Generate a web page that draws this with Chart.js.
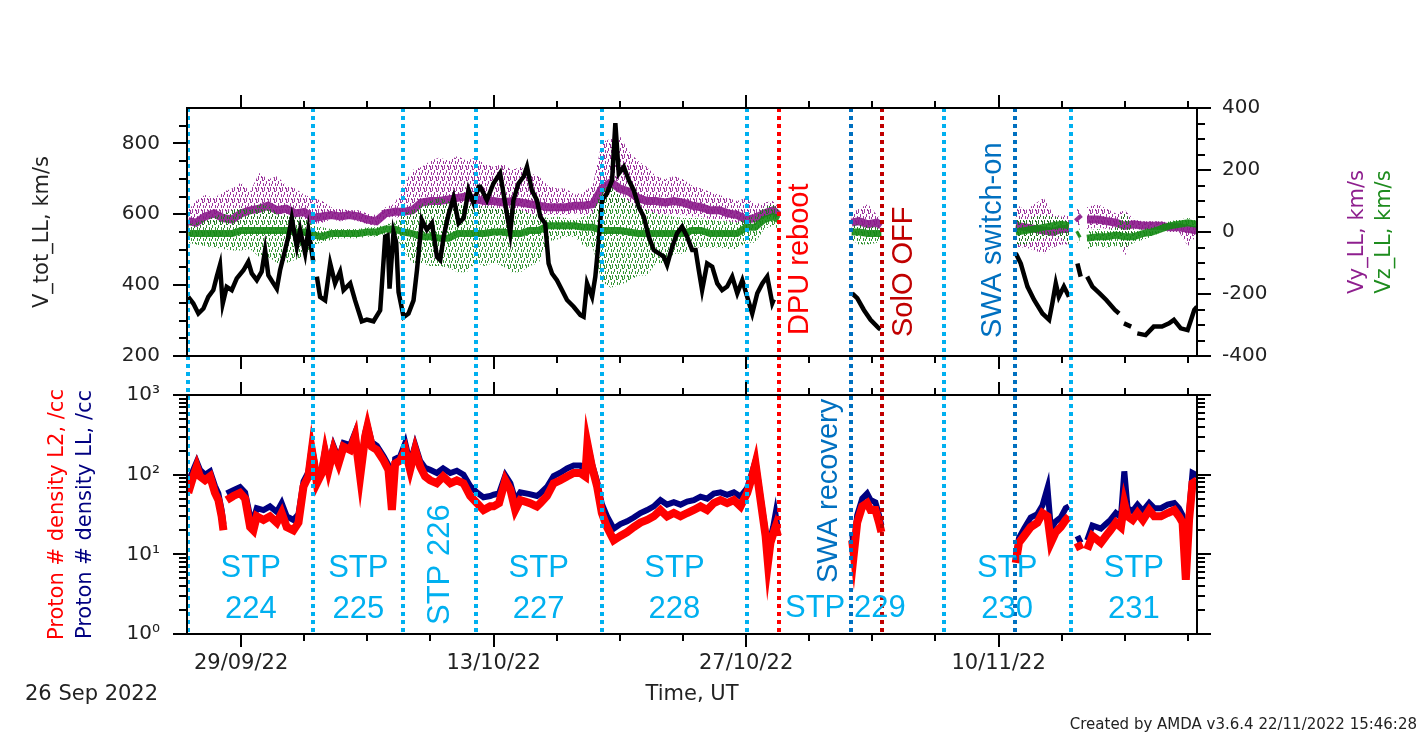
<!DOCTYPE html>
<html>
<head>
<meta charset="utf-8">
<script src="https://cdn.jsdelivr.net/npm/chart.js@4.4.1/dist/chart.umd.min.js"></script>
<style>
html,body{margin:0;padding:0;background:#fff;}
#wrap{position:relative;width:1418px;height:733px;}
</style>
</head>
<body>
<div id="wrap"><canvas id="c" width="1418" height="733"></canvas></div>
<script>
// ---------- DATA (days since 26 Sep 2022 00:00 UT) ----------
const xTickDays = [3, 17, 31, 45];
const xTickLabels = ['29/09/22', '13/10/22', '27/10/22', '10/11/22'];
const xMinorDays = [6.5, 10, 13.5, 20.5, 24, 27.5, 34.5, 38, 41.5, 48.5, 52, 55.5];
const vTicks = [200, 400, 600, 800];
const vMinor = [250, 300, 350, 450, 500, 550, 650, 700, 750, 850];
const vyTicks = [-400, -200, 0, 200, 400];
const vyMinor = [-350, -300, -250, -150, -100, -50, 50, 100, 150, 250, 300, 350];
const densTicks = [1, 10, 100, 1000];
const densTickLabels = ['10\u2070', '10\u00b9', '10\u00b2', '10\u00b3'];
const densMinor = [2,3,4,5,6,7,8,9,20,30,40,50,60,70,80,90,200,300,400,500,600,700,800,900];

const stpBoundDays = [0.07, 7.0, 12.0, 16.0, 23.0, 31.05, 41.95, 49.0];
const stpNames = ['STP 224','STP 225','STP 226','STP 227','STP 228','STP 229','STP 230','STP 231'];
const eventDays = [32.8, 36.83, 38.55, 45.9];
const eventNames = ['DPU reboot', 'SWA recovery', 'SolO OFF', 'SWA switch-on'];

// V_tot_LL (km/s)
const vtotDays = [0.07,0.35,0.63,0.91,1.18,1.46,1.65,1.83,1.98,2.2,2.48,2.76,3.13,3.4,3.59,3.87,4.14,4.33,4.51,4.79,4.98,5.16,5.44,5.62,5.81,6.09,6.27,6.55,6.73,7.0,7.1,
 7.2,7.38,7.66,7.94,8.21,8.49,8.68,9.05,9.32,9.69,9.97,10.34,10.71,10.99,11.12,11.23,11.45,11.6,11.73,12.01,12.28,12.56,12.75,13.02,13.3,13.58,13.86,14.04,14.23,14.5,14.78,15.06,15.34,15.61,15.89,16.17,
 16.26,16.63,16.99,17.36,17.64,17.92,18.1,18.38,18.66,18.85,19.12,19.4,19.59,19.86,20.05,20.24,20.51,20.79,21.07,21.44,21.81,21.99,22.18,22.46,22.64,22.83,23.01,23.29,23.57,23.75,23.94,24.22,24.49,24.77,25.05,25.33,25.6,25.88,26.16,26.44,26.62,26.9,27.17,27.45,27.73,28.01,28.2,28.38,28.56,28.84,29.12,29.4,29.67,29.95,30.23,30.51,30.79,31.06,31.34,31.62,31.9,32.17,32.45,32.54,
 34,36.88,37.16,37.53,37.9,38.36,38.45,42,
 45.95,46.23,46.6,46.97,47.43,47.8,47.98,48.17,48.34,48.62,48.9,49.1,49.37,49.55,49.7,49.91,50.2,50.6,50.97,51.45,51.68,51.8,51.95,52.35,52.5,52.69,53.15,53.6,54.06,54.45,54.72,55.1,55.48,55.85,56.0];
const vtotVals = [367,348,320,334,367,386,424,457,348,395,386,419,442,466,433,414,438,499,428,405,390,442,499,537,589,508,556,490,556,466,null,
 424,367,357,461,405,438,386,405,357,298,303,298,329,537,540,390,550,520,380,310,320,357,442,584,556,575,480,471,537,600,647,575,589,669,631,678,
 678,640,687,716,631,546,640,687,706,734,668,640,593,574,461,433,414,386,358,339,316,311,405,367,424,527,640,659,697,857,715,734,697,668,620,593,537,499,490,480,457,508,546,565,537,499,499,441,386,461,452,405,386,396,424,377,414,367,320,377,405,424,349,360,
 null,377,363,330,302,278,275,null,
 490,461,396,358,320,302,349,405,367,396,367,null,461,424,null,424,396,377,358,330,320,null,292,283,null,264,259,283,283,292,302,278,273,330,339];

// Vy_LL / Vz_LL (km/s): dense core and spread envelope
const vDays = [0.07,0.5,1,1.5,2,2.5,3,3.5,4,4.5,5,5.5,6,6.5,7,7.5,8,8.5,9,9.5,10,10.5,11,11.5,12,12.5,13,13.5,14,14.5,15,15.5,16,16.5,17,17.5,18,18.5,19,19.5,20,20.5,21,21.5,22,22.5,23,23.5,24,24.5,25,25.5,26,26.5,27,27.5,28,28.5,29,29.5,30,30.5,31,31.5,32,32.5,32.8,
 34, 36.85,37.25,37.75,38.25,38.5, 42, 45.95,46.5,47,47.5,48,48.5,48.9, 49.1, 49.35,49.5, 49.7, 49.9,50.5,51,51.5,52,52.5,53,53.5,54,54.5,55,55.5,56];
const vyCore = [35,30,50,60,45,40,60,70,75,85, 70,75,60,65,45,50,55,50,55,50, 40,35,60,65,65,70,95,100,100,105, 110,115,105,100,100,95,100,95,90,85, 80,80,80,85,85,90,140,160,140,130, 110,100,100,95,100,95,85,80,70,70, 60,55,40,45,60,70,55,
 null, 30,35,25,30,20, null, 20,15,10,5,0,10,10, null, 50,40, null, 40,40,35,30,20,25,20,20,20,15,15,10,5];
const vyHi = [70,100,120,110,130,140,160,130,190,170, 180,150,140,120,110,100,80,75,70,70, 60,55,80,90,150,200,210,230,240,230, 245,230,240,220,210,220,200,210,190,180, 150,140,140,120,130,150,290,300,310,260, 230,210,180,170,180,170,150,140,130,120, 110,100,110,90,95,100,80,
 null, 60,75,90,55,40, null, 90,70,90,110,60,50,60, null, 90,70, null, 80,90,75,60,70,40,35,35,35,30,30,30,20];
const vyLo = [15,10,25,30,15,15,30,35,40,45, 35,35,30,30,25,30,40,35,40,35, 25,20,45,50,40,40,55,60,55,60, 65,70,60,55,55,55,60,55,55,50, 55,55,55,60,55,55,80,90,80,75, 65,60,60,55,60,55,50,50,40,40, 35,30,15,20,35,45,30,
 null, 10,15,5,10,5, null, -50,-50,-60,-70,-50,-40,-40, null, 20,20, null, 10,15,10,10,-80,10,10,10,5,0,0,-45,-10];
const vzCore = [-5,-5,-5,-5,-5,-5,5,5,5,5, 5,5,0,0,-10,-15,-5,-5,-5,-5, 0,0,10,10,0,-5,-15,-15,-20,-20, -5,-5,-5,-5,0,0,-5,-5,5,5, 20,20,20,20,15,15,5,5,5,0, -5,-5,-5,-5,-5,-5,5,5,-5,-5, -5,-5,15,15,40,50,40,
 null, 0,0,-5,-5,-5, null, 0,5,10,15,20,25,20, null, -10,-5, null, -20,-15,-15,-10,-15,-15,-5,0,10,20,25,30,25];
const vzHi = [25,30,40,50,60,70,80,70,90,85, 60,55,50,45,20,15,10,10,10,10, 15,15,25,30,60,70,90,100,110,100, 90,95,80,85,80,75,70,70,60,55, 45,50,45,40,50,60,140,150,120,100, 80,70,60,55,50,45,45,45,40,35, 35,30,45,50,80,90,70,
 null, 20,25,20,15,10, null, 45,40,50,55,50,45,30, null, 20,10, null, 5,10,5,15,70,5,10,15,25,35,40,45,40];
const vzLo = [-35,-40,-45,-50,-55,-60,-60,-55,-80,-80, -100,-100,-90,-80,-40,-35,-25,-20,-20,-20, -15,-15,-5,-5,-60,-100,-100,-110,-110,-115, -130,-130,-100,-110,-100,-110,-130,-130,-110,-100, -30,-25,-15,-15,-45,-50,-160,-180,-170,-160, -140,-140,-100,-100,-70,-70,-50,-50,-50,-50, -55,-55,-35,-35,10,20,10,
 null, -25,-40,-40,-35,-20, null, -40,-40,-30,-20,-10,-20,-40, null, -35,-30, null, -55,-45,-50,-45,-50,-35,-25,-15,0,10,15,15,15];

// Proton density (/cc)
const densDays = [0.07,0.35,0.54,0.72,1.0,1.28,1.55,1.74,1.92,2.02, 2.1,2.2,2.57,2.94,3.22,3.5,3.68,3.87,4.24,4.6, 4.98,5.25,5.53,5.9,6.18,6.46,6.73,6.92,7.05,7.2,
 7.48,7.66,7.85,8.12,8.4,8.68,9.05,9.32,9.6,9.88, 10.0,10.25,10.53,10.9,11.17,11.36,11.54,11.82,12.1,12.37, 12.65,12.93,13.2,13.48,13.85,14.2,14.6,14.96,15.33,15.7,
 16.07,16.44,16.81,17.0,17.3,17.65,17.93,18.2,18.48,19.0, 19.4,19.59,19.96,20.33,20.7,21.07,21.44,21.81,22.08,22.2, 22.45,22.74,23.0,23.29,23.66,24.03,24.4,24.77,25.14,25.51,
 25.88,26.25,26.62,26.99,27.36,27.73,28.1,28.47,28.84,29.21, 29.58,29.95,30.32,30.69,31.06,31.34,31.52,31.8,32.08,32.21, 32.35,32.5,32.63,32.76,34,36.88,36.97,37.16,37.44,37.71,
 37.9,38.17,38.37,38.5,42,45.95,46.13,46.41,46.78,47.15, 47.43,47.71,47.9,48.17,48.45,48.72,48.9,49.1,49.37,49.55, 49.7,49.91,50.2,50.67,50.95,51.2,51.5,51.78,51.97,52.15,
 52.43,52.7,53.0,53.35,53.63,54.0,54.37,54.74,55.0,55.2, 55.38,55.56,55.75,56.0];
const densL2 = [59,95,126,95,85,95,59,48,30,20, null,48,54,59,50,22,20,30,27,30, 25,33,22,20,25,71,95,204,138,78,
 105,186,115,204,138,224,204,302,95,302, 398,224,204,151,115,36,138,151,204,115, 204,126,95,85,78,95,78,85,78,54,
 44,36,40,40,44,85,65,36,48,44, 40,44,54,78,85,95,105,105,95,245, 126,71,33,22,15,17,19,22,25,27,
 30,36,30,33,30,33,36,40,36,44, 48,44,48,40,59,95,138,48,17,7.8, 14,18,22,17,null,15,10,25,40,44,
 36,36,25,19,null,7.8,14,17,22,25, 33,30,14,19,22,27,30,null,14,11.5, null,11.5,17,14,17,20,25,22,44,30,
 27,33,27,36,30,30,33,36,30,25, 4.8,27,78,85];
const densLL = [80,115,145,115,100,110,72,58,36,24, null,58,64,70,60,30,27,38,36,40, 34,44,30,27,32,82,108,225,155,92,
 122,205,132,230,158,250,235,335,115,335, 425,255,230,170,132,40,158,170,250,136, 235,148,122,115,105,120,105,112,100,72,
 60,52,54,56,58,98,78,48,60,57, 54,58,70,96,106,120,130,130,116,255, 138,82,43,30,21,24,26,29,33,36,
 40,48,42,45,42,46,48,53,50,58, 60,56,60,53,68,108,148,53,19,9, 16,22,32,21,null,19,12,31,50,58,
 48,45,31,23,null,9.5,16,21,29,32, 41,68,21,26,29,38,40,null,17,14, null,15,23,21,24,27,33,29,110,38,
 35,42,35,44,38,38,42,44,38,31, 6,33,105,98];

// ---------- STYLE ----------
const STP_COLOR = '#00B0F0';
const eventColors = ['#FF0000', '#0070C0', '#C00000', '#0070C0'];
const stpLayout = ['two','two','rot','two','two','one','two','two'];
const AX_FONT = 'DejaVu Sans';
const ANN_FONT = 'Liberation Sans';
const TXT = '#222';

// stippled texture for the scattered Vy/Vz samples
function speckle(color) {
  const c = document.createElement('canvas');
  c.width = 6; c.height = 11;
  const g = c.getContext('2d');
  g.fillStyle = color;
  [[0,0,1,4],[2,5,1,3],[4,1,1,4],[1,8,1,2],[5,7,1,3],[3,0,1,2],[5,4,1,1]].forEach(r => g.fillRect(r[0], r[1], r[2], r[3]));
  return g.createPattern(c, 'repeat');
}
const vyTexture = speckle('rgba(140,20,140,0.85)');
const vzTexture = speckle('rgba(20,130,20,0.85)');

const P = (days, vals) => days.map((d, i) => ({x: d, y: vals[i]}));

const overlay = {
  id: 'overlay',
  afterDatasetsDraw(chart) {
    const {ctx, chartArea: ca} = chart;
    const {x, yV, yN, yR} = chart.scales;
    ctx.save();
    // dotted vertical lines
    ctx.lineWidth = 4;
    ctx.setLineDash([4, 4]);
    const vline = (d, col) => {
      const px = Math.round(x.getPixelForValue(d));
      ctx.strokeStyle = col;
      ctx.beginPath(); ctx.moveTo(px, ca.top); ctx.lineTo(px, ca.bottom); ctx.stroke();
    };
    stpBoundDays.forEach(d => vline(d, STP_COLOR));
    eventDays.forEach((d, i) => vline(d, eventColors[i]));
    ctx.setLineDash([]);
    // frames
    ctx.strokeStyle = '#000'; ctx.lineWidth = 2;
    [yV, yN].forEach(s => ctx.strokeRect(ca.left, s.top, ca.right - ca.left, s.bottom - s.top));
    // tick marks
    const hTick = (s, vals, len, edge, dir) => vals.forEach(v => {
      const py = Math.round(s.getPixelForValue(v));
      ctx.beginPath(); ctx.moveTo(edge, py); ctx.lineTo(edge + dir * len, py); ctx.stroke();
    });
    hTick(yV, vTicks, 14, ca.left, -1); hTick(yV, vMinor, 8, ca.left, -1);
    hTick(yR, vyTicks, 14, ca.right, 1); hTick(yR, vyMinor, 8, ca.right, 1);
    hTick(yN, densTicks, 14, ca.left, -1); hTick(yN, densMinor, 8, ca.left, -1);
    hTick(yN, densTicks, 14, ca.right, 1); hTick(yN, densMinor, 8, ca.right, 1);
    const vTick = (vals, len, edge, dir) => vals.forEach(d => {
      const px = Math.round(x.getPixelForValue(d));
      ctx.beginPath(); ctx.moveTo(px, edge); ctx.lineTo(px, edge + dir * len); ctx.stroke();
    });
    [[yV.top, -1], [yV.bottom, 1], [yN.top, -1], [yN.bottom, 1]].forEach(([e, dir]) => {
      vTick(xTickDays, 13, e, dir); vTick(xMinorDays, 7, e, dir);
    });
    // rotated text helper
    const rtext = (txt, bx, sy, col, font, align) => {
      ctx.save(); ctx.translate(bx, sy); ctx.rotate(-Math.PI / 2);
      ctx.textAlign = align; ctx.textBaseline = 'alphabetic';
      ctx.fillStyle = col; ctx.font = font; ctx.fillText(txt, 0, 0); ctx.restore();
    };
    const axF = '21px "' + AX_FONT + '"';
    rtext('V_tot_LL, km/s', ca.left - 139, (yV.top + yV.bottom) / 2, TXT, axF, 'center');
    rtext('Vy_LL, km/s', ca.right + 166, (yV.top + yV.bottom) / 2, '#8E1F8E', axF, 'center');
    rtext('Vz_LL, km/s', ca.right + 193, (yV.top + yV.bottom) / 2, '#1E8C1E', axF, 'center');
    rtext('Proton # density L2, /cc', ca.left - 124, (yN.top + yN.bottom) / 2, '#FF0000', axF, 'center');
    rtext('Proton # density LL, /cc', ca.left - 96, (yN.top + yN.bottom) / 2, '#000080', axF, 'center');
    // event annotations
    const annF = '29px "' + ANN_FONT + '"';
    const ex = i => x.getPixelForValue(eventDays[i]);
    rtext(eventNames[0], ex(0) + 29, yV.bottom - 21, eventColors[0], annF, 'left');
    rtext(eventNames[1], ex(1) - 14, yN.top + 188, eventColors[1], annF, 'left');
    rtext(eventNames[2], ex(2) + 30, yV.bottom - 19, eventColors[2], annF, 'left');
    rtext(eventNames[3], ex(3) - 14, yV.bottom - 18, eventColors[3], annF, 'left');
    // STP labels
    const stpF = '31px "' + ANN_FONT + '"';
    ctx.font = stpF; ctx.fillStyle = STP_COLOR; ctx.textAlign = 'center'; ctx.textBaseline = 'alphabetic';
    stpNames.forEach((name, i) => {
      const end = i + 1 < stpBoundDays.length ? stpBoundDays[i + 1] : x.max;
      const px = x.getPixelForValue((stpBoundDays[i] + end) / 2);
      const parts = name.split(' ');
      if (stpLayout[i] === 'two') {
        ctx.fillText(parts[0], px, yN.bottom - 57);
        ctx.fillText(parts[1], px, yN.bottom - 16);
      } else if (stpLayout[i] === 'one') {
        ctx.fillText(name, px, yN.bottom - 17);
      } else {
        rtext(name, px + 9, yN.bottom - 9, STP_COLOR, stpF, 'left');
      }
    });
    // bottom texts
    ctx.fillStyle = TXT; ctx.font = axF; ctx.textAlign = 'left';
    ctx.fillText('26 Sep 2022', 25, 700);
    ctx.textAlign = 'center';
    ctx.fillText('Time, UT', (ca.left + ca.right) / 2, 700);
    ctx.font = '15px "' + AX_FONT + '"'; ctx.textAlign = 'right';
    ctx.fillText('Created by AMDA v3.6.4 22/11/2022 15:46:28', 1417, 729);
    ctx.restore();
  }
};

const tickFont = {family: AX_FONT, size: 20};
const noGrid = {display: false, drawTicks: false};
const noBorder = {display: false};
const hidden = 'rgba(0,0,0,0)';

new Chart(document.getElementById('c'), {
  type: 'line',
  data: {
    datasets: [
      {label: 'V_tot_LL', data: P(vtotDays, vtotVals), yAxisID: 'yV', borderColor: '#000', borderWidth: 4.5, pointRadius: 0, fill: false},
      {label: 'Vz_LL', data: P(vDays, vzCore), yAxisID: 'yR', borderColor: 'rgba(20,138,20,0.9)', borderWidth: 7, pointRadius: 0, fill: false},
      {label: 'Vz_LL low', data: P(vDays, vzLo), yAxisID: 'yR', borderColor: hidden, borderWidth: 0, pointRadius: 0, fill: 3, backgroundColor: vzTexture},
      {label: 'Vz_LL high', data: P(vDays, vzHi), yAxisID: 'yR', borderColor: hidden, borderWidth: 0, pointRadius: 0, fill: false},
      {label: 'Vy_LL', data: P(vDays, vyCore), yAxisID: 'yR', borderColor: 'rgba(138,26,138,0.9)', borderWidth: 8, pointRadius: 0, fill: false},
      {label: 'Vy_LL low', data: P(vDays, vyLo), yAxisID: 'yR', borderColor: hidden, borderWidth: 0, pointRadius: 0, fill: 6, backgroundColor: vyTexture},
      {label: 'Vy_LL high', data: P(vDays, vyHi), yAxisID: 'yR', borderColor: hidden, borderWidth: 0, pointRadius: 0, fill: false},
      {label: 'Proton density L2', data: P(densDays, densL2), yAxisID: 'yN', borderColor: '#FF0000', borderWidth: 8, pointRadius: 0, fill: false},
      {label: 'Proton density LL', data: P(densDays, densLL), yAxisID: 'yN', borderColor: '#000080', borderWidth: 6, pointRadius: 0, fill: false}
    ]
  },
  options: {
    responsive: false, animation: false, devicePixelRatio: 1,
    layout: {padding: {top: 108, left: 0, right: 0, bottom: 0}},
    plugins: {legend: {display: false}, tooltip: {enabled: false}},
    elements: {line: {tension: 0}, point: {radius: 0}},
    scales: {
      x: {type: 'linear', position: 'bottom', min: 0, max: 56, grid: noGrid, border: noBorder,
        ticks: {font: {family: AX_FONT, size: 21}, color: TXT, padding: 17, autoSkip: false, maxRotation: 0, minRotation: 0,
          callback: v => { const i = xTickDays.indexOf(v); return i < 0 ? '' : xTickLabels[i]; }},
        afterBuildTicks: s => { s.ticks = xTickDays.map(v => ({value: v})); },
        afterFit: s => { s.height = 99; }},
      yV: {type: 'linear', position: 'left', stack: 'left', stackWeight: 248, weight: 2, min: 200, max: 900, grid: noGrid, border: noBorder,
        ticks: {font: tickFont, color: TXT, padding: 27, callback: v => String(v)},
        afterBuildTicks: s => { s.ticks = vTicks.map(v => ({value: v})); },
        afterFit: s => { s.width = 187; }},
      gapL: {type: 'linear', position: 'left', stack: 'left', stackWeight: 39, weight: 1, grid: noGrid, border: noBorder,
        ticks: {display: false}, afterFit: s => { s.width = 187; }},
      yN: {type: 'logarithmic', position: 'left', stack: 'left', stackWeight: 239, weight: 0, min: 1, max: 1000, grid: noGrid, border: noBorder,
        ticks: {font: tickFont, color: TXT, padding: 27, callback: v => { const i = densTicks.indexOf(v); return i < 0 ? '' : densTickLabels[i]; }},
        afterBuildTicks: s => { s.ticks = densTicks.map(v => ({value: v})); },
        afterFit: s => { s.width = 187; }},
      yR: {type: 'linear', position: 'right', stack: 'right', stackWeight: 248, weight: 0, min: -400, max: 400, grid: noGrid, border: noBorder,
        ticks: {font: tickFont, color: TXT, padding: 25, callback: v => String(v)},
        afterBuildTicks: s => { s.ticks = vyTicks.map(v => ({value: v})); },
        afterFit: s => { s.width = 221; }},
      gapR: {type: 'linear', position: 'right', stack: 'right', stackWeight: 278, weight: 1, grid: noGrid, border: noBorder,
        ticks: {display: false}, afterFit: s => { s.width = 221; }}
    }
  },
  plugins: [overlay]
});
</script>
</body>
</html>
